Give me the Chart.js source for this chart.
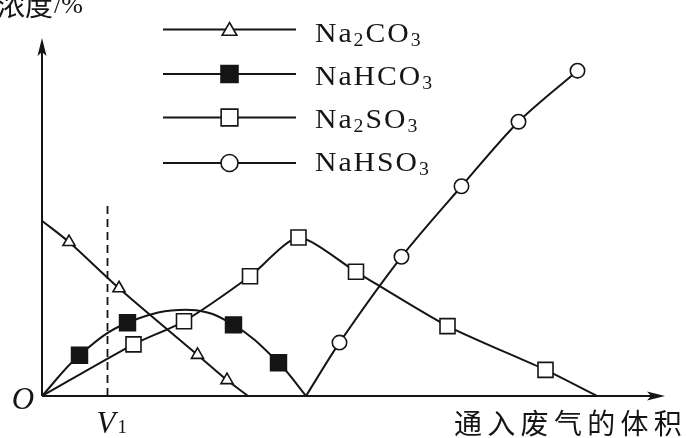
<!DOCTYPE html>
<html>
<head>
<meta charset="utf-8">
<script src="https://cdn.jsdelivr.net/npm/chart.js@4.4.1/dist/chart.umd.min.js"></script>
<style>
  html, body { margin: 0; padding: 0; background: #fff; }
  #chart { display: block; }
</style>
</head>
<body>
<canvas id="chart" width="686" height="438"></canvas>
<script>
// volume of gas passed in (x) and concentration (y)
const volCO3 = [0, 0.54, 1.54, 3.11, 3.70, 4.12];
const concCO3 = [5.84, 5.13, 3.59, 1.37, 0.53, 0];
// NaHCO3 also has its unmarked top of the arc (index 3)
const volHCO3 = [0, 0.75, 1.71, 2.96, 3.83, 4.73, 5.28];
const concHCO3 = [0, 1.36, 2.44, 2.87, 2.37, 1.11, 0];
const volSO3 = [0, 1.83, 2.84, 4.16, 5.13, 6.28, 8.11, 10.07, 11.10];
const concSO3 = [0, 1.72, 2.49, 3.99, 5.28, 4.14, 2.33, 0.87, 0];
const volHSO3 = [5.28, 5.95, 7.19, 8.39, 9.53, 10.71];
const concHSO3 = [0, 1.78, 4.64, 6.99, 9.14, 10.84];

const v1 = 1.31;     // dashed marker V1
const v1Top = 6.4;
const xMax = 12.46;  // axis arrow tips
const yMax = 11.93;

// legend names as [text, isSubscript] pieces
const names = [
  [["Na", 0], ["2", 1], ["CO", 0], ["3", 1]],
  [["NaHCO", 0], ["3", 1]],
  [["Na", 0], ["2", 1], ["SO", 0], ["3", 1]],
  [["NaHSO", 0], ["3", 1]],
];
const yTitle = ["浓度", "/%"];
const xTitle = "通入废气的体积";

const ink = "#151515";
const toPts = (xs, ys) => xs.map((v, i) => ({ x: v, y: ys[i] }));

// which indices are line vertices without a marker
function radiusSkip(r, skip) {
  return (c) => (skip.includes(c.dataIndex) ? 0 : r);
}

function series(xs, ys, style, r, fill, skip, tension) {
  return {
    data: toPts(xs, ys),
    showLine: true,
    borderColor: ink,
    borderWidth: 2,
    tension: tension,
    pointStyle: style,
    pointRadius: radiusSkip(r, skip),
    pointBorderWidth: 1.6,
    pointBorderColor: ink,
    pointBackgroundColor: fill,
    clip: false,
  };
}

function mark(ctx, style, x, y, r, fill) {
  ctx.beginPath();
  if (style === "triangle") {
    const h = 0.866 * r;
    ctx.moveTo(x, y - r);
    ctx.lineTo(x + h, y + r / 2);
    ctx.lineTo(x - h, y + r / 2);
    ctx.closePath();
  } else if (style === "rect") {
    const s = Math.SQRT1_2 * r;
    ctx.rect(x - s, y - s, 2 * s, 2 * s);
  } else {
    ctx.arc(x, y, r, 0, Math.PI * 2);
  }
  ctx.fillStyle = fill;
  ctx.fill();
  ctx.stroke();
}

// chemical formula with subscripts, slightly widened like the print
function formula(ctx, parts, x, base) {
  ctx.save();
  ctx.translate(x, base);
  ctx.scale(1.1, 1);
  let cx = 0;
  for (const [t, sub] of parts) {
    for (const ch of t) {
      ctx.font = sub ? "18px 'Liberation Serif'" : "27px 'Liberation Serif'";
      ctx.fillText(ch, cx, sub ? 4 : 0);
      cx += ctx.measureText(ch).width + 1.8;
    }
  }
  ctx.restore();
}

const legendRows = [
  { y: 29.5, base: 41.5, style: "triangle", r: 8.5, fill: "#fff" },
  { y: 74, base: 85, style: "rect", r: 12, fill: ink },
  { y: 117.5, base: 128, style: "rect", r: 11.8, fill: "#fff" },
  { y: 163, base: 170.5, style: "circle", r: 8.5, fill: "#fff" },
];

const figure = {
  id: "figure",
  beforeDatasetsDraw(chart) {
    const { ctx } = chart;
    const sx = chart.scales.x, sy = chart.scales.y;
    const x0 = sx.getPixelForValue(0), y0 = sy.getPixelForValue(0);
    const xe = sx.getPixelForValue(xMax), ye = sy.getPixelForValue(yMax);
    ctx.save();
    ctx.strokeStyle = ink;
    ctx.fillStyle = ink;
    ctx.lineWidth = 2;
    ctx.beginPath();
    ctx.moveTo(x0, y0);
    ctx.lineTo(xe - 8, y0);
    ctx.moveTo(x0, y0);
    ctx.lineTo(x0, ye + 8);
    ctx.stroke();
    ctx.beginPath();
    ctx.moveTo(xe, y0);
    ctx.lineTo(xe - 18, y0 - 4.5);
    ctx.lineTo(xe - 14, y0);
    ctx.lineTo(xe - 18, y0 + 4.5);
    ctx.closePath();
    ctx.fill();
    ctx.beginPath();
    ctx.moveTo(x0, ye);
    ctx.lineTo(x0 - 4.5, ye + 18);
    ctx.lineTo(x0, ye + 14);
    ctx.lineTo(x0 + 4.5, ye + 18);
    ctx.closePath();
    ctx.fill();
    ctx.restore();
  },
  afterDraw(chart) {
    const { ctx } = chart;
    const sx = chart.scales.x, sy = chart.scales.y;
    const x0 = sx.getPixelForValue(0), y0 = sy.getPixelForValue(0);
    ctx.save();
    ctx.fillStyle = ink;
    ctx.strokeStyle = ink;

    // legend
    legendRows.forEach((row, i) => {
      ctx.lineWidth = 1.9;
      ctx.beginPath();
      ctx.moveTo(163, row.y);
      ctx.lineTo(296, row.y);
      ctx.stroke();
      ctx.lineWidth = 1.6;
      mark(ctx, row.style, 229.5, row.style === "triangle" ? row.y + 1.5 : row.y, row.r, row.fill);
      ctx.fillStyle = ink;
      formula(ctx, names[i], 315, row.base);
    });

    // axis titles
    ctx.textBaseline = "middle";
    ctx.font = "28px 'Noto Sans CJK SC'";
    ctx.fillText(yTitle[0], -3, 5);
    const w = ctx.measureText(yTitle[0]).width;
    ctx.font = "26px 'Liberation Serif'";
    ctx.fillText(yTitle[1], -3 + w + 1, 6);

    ctx.font = "28px 'Noto Sans CJK SC'";
    ctx.textAlign = "center";
    [...xTitle].forEach((ch, i) => ctx.fillText(ch, 468 + i * 33.3, 423));

    // origin and V1
    ctx.textBaseline = "alphabetic";
    ctx.font = "italic 31px 'Liberation Serif'";
    ctx.fillText("O", x0 - 19, y0 + 13);
    const vx = sx.getPixelForValue(v1);
    ctx.textAlign = "left";
    ctx.fillText("V", vx - 11, 433);
    ctx.font = "19px 'Liberation Serif'";
    ctx.fillText("1", vx + 10, 433);
    ctx.restore();
  },
};

new Chart(document.getElementById("chart"), {
  type: "scatter",
  data: {
    datasets: [
      series(volCO3, concCO3, "triangle", 7, "#fff", [0, 5], 0.3),
      series(volHCO3, concHCO3, "rect", 11.2, ink, [0, 3, 6], 0.4),
      series(volSO3, concSO3, "rect", 10.6, "#fff", [0, 8], 0.22),
      series(volHSO3, concHSO3, "circle", 7.2, "#fff", [0], 0.3),
      {
        data: [{ x: v1, y: 0 }, { x: v1, y: v1Top }],
        showLine: true,
        borderColor: ink,
        borderWidth: 1.8,
        borderDash: [8, 5],
        pointRadius: 0,
        clip: false,
      },
    ],
  },
  options: {
    responsive: false,
    animation: false,
    events: [],
    layout: { padding: { left: 42, top: 38, right: 21, bottom: 42 } },
    scales: {
      x: { type: "linear", min: 0, max: xMax, display: false },
      y: { type: "linear", min: 0, max: yMax, display: false },
    },
    plugins: { legend: { display: false }, tooltip: { enabled: false } },
  },
  plugins: [figure],
});
</script>
</body>
</html>
